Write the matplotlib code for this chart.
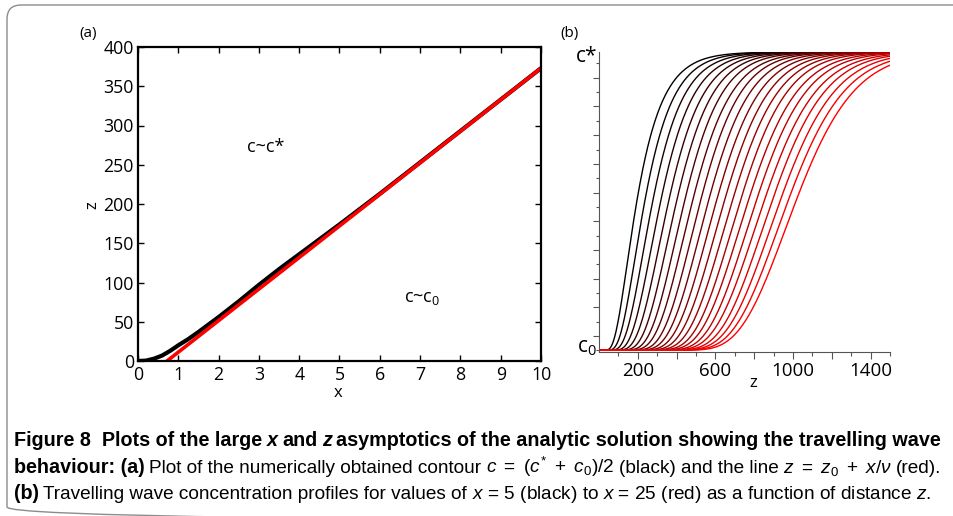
import matplotlib
matplotlib.use("Agg")
import matplotlib.pyplot as plt
from matplotlib import font_manager
from matplotlib.patches import FancyBboxPatch
from matplotlib.ticker import FixedLocator, FixedFormatter, MultipleLocator
import numpy as np
from math import erf

# --- data ---

# (a) numerically obtained contour c = (c* + c0)/2
contour_x = [0.0, 0.2, 0.4, 0.6, 0.8, 1.0, 1.25, 1.5, 2.0, 2.5, 3.0, 3.5, 4.0, 4.5,
             5.0, 6.0, 7.0, 8.0, 9.0, 10.0]
contour_z = [0, 0.5, 3, 7, 13, 20, 28, 37, 56, 76, 97, 117, 136, 155,
             174, 213, 253, 293, 333, 373]
# (a) asymptotic line z = z0 + x/nu
line_x = [0.72, 10.0]
line_z = [0, 373]

# (b) travelling wave profiles, x = 5 .. 25
profile_x = [5, 6, 7, 8, 9, 10, 11, 12, 13, 14, 15, 16, 17, 18, 19, 20, 21, 22, 23, 24, 25]
# z where each profile is half way between c0 and c*
profile_mid = [195, 236, 277, 318, 359, 400, 441, 482, 523, 564, 605,
               646, 687, 728, 769, 810, 851, 892, 933, 974, 1015]
# spread of each front (in units of sqrt(z))
profile_spread = [10.6, 10.5, 10.4, 10.3, 10.2, 10.1, 10.0, 10.0, 9.9, 9.9, 9.9,
                  9.9, 9.9, 9.9, 10.0, 10.0, 10.1, 10.1, 10.2, 10.3, 10.4]
c0_level = 0.0
cstar_level = 10.4

# --- fonts ---
names = {f.name for f in font_manager.fontManager.ttflist}
narrow = "Liberation Sans Narrow" if "Liberation Sans Narrow" in names else "Liberation Sans"
plot_font = "Open Sans"
plt.rcParams["font.family"] = [plot_font, "DejaVu Sans"]
plt.rcParams["mathtext.fontset"] = "custom"
plt.rcParams["mathtext.rm"] = narrow
plt.rcParams["mathtext.it"] = narrow + ":italic"
plt.rcParams["mathtext.bf"] = narrow + ":bold"

W, H = 954, 516
fig = plt.figure(figsize=(W / 100, H / 100), dpi=100)

# background axes in pixel coordinates
bg = fig.add_axes([0, 0, 1, 1])
bg.set_xlim(0, W)
bg.set_ylim(H, 0)
bg.axis("off")
bg.add_patch(FancyBboxPatch((7, 5), 1000, 516, boxstyle="round,pad=0,rounding_size=14",
                            fc="none", ec="#8c8c8c", lw=1.0))


def px_axes(left, top, right, bottom):
    return fig.add_axes([left / W, 1 - bottom / H, (right - left) / W, (bottom - top) / H])


# --- (a) ---
ax = px_axes(138, 47, 541, 361)
ax.plot(contour_x, contour_z, color="black", lw=3.0, solid_capstyle="butt")
ax.plot(line_x, line_z, color="#ff0000", lw=2.6)
ax.set_xlim(0, 10)
ax.set_ylim(0, 400)
ax.xaxis.set_major_locator(MultipleLocator(1))
ax.yaxis.set_major_locator(MultipleLocator(50))
ax.tick_params(direction="in", top=True, right=True, length=4, width=1, labelsize=12.8)
ax.tick_params(axis="x", pad=3.5)
ax.tick_params(axis="y", pad=3)
for sp in ax.spines.values():
    sp.set_linewidth(1.6)
ax.text(2.7, 273, "c~c*", fontsize=13, ha="left", va="center")
ax.text(6.6, 80, r"c~c$\mathregular{_0}$", fontsize=13, ha="left", va="center")
bg.text(88, 33, "(a)", fontsize=11, ha="center", va="center")
bg.text(338, 393, "x", fontsize=12, ha="center", va="center")
bg.text(92, 205, "z", fontsize=12, ha="center", va="center", rotation=90)

# --- (b) ---
bx = px_axes(599, 52, 890, 352)
z = np.linspace(10, 1500, 700)
n = len(profile_x)
for i in range(n):
    m, s = profile_mid[i], profile_spread[i]
    frac = np.array([0.5 * (1 + erf((zz - m) / (s * np.sqrt(zz)))) for zz in z])
    c = c0_level + (cstar_level - c0_level) * frac
    t = i / (n - 1)
    bx.plot(z, c, color=(t, 0, 0), lw=1.0)
bx.set_xlim(0, 1500)
bx.set_ylim(-0.06, cstar_level)
bx.spines["top"].set_visible(False)
bx.spines["right"].set_visible(False)
for sp in ("left", "bottom"):
    bx.spines[sp].set_color("#555555")
xmaj = [200, 400, 600, 800, 1000, 1200, 1400]
bx.xaxis.set_major_locator(FixedLocator(xmaj))
bx.xaxis.set_major_formatter(FixedFormatter(["200", "", "600", "", "1000", "", "1400"]))
bx.xaxis.set_minor_locator(FixedLocator([100, 300, 500, 700, 900, 1100, 1300, 1500]))
bx.yaxis.set_major_locator(FixedLocator([0.5 + k for k in range(10)]))
bx.yaxis.set_major_formatter(FixedFormatter([""] * 10))
bx.yaxis.set_minor_locator(FixedLocator([float(k) for k in range(11)]))
bx.tick_params(axis="x", which="major", direction="out", length=5, width=0.8,
               colors="#555555", labelcolor="black", labelsize=13.5, pad=2)
bx.tick_params(axis="x", which="minor", direction="out", length=3, width=0.8, colors="#555555")
bx.tick_params(axis="y", which="major", direction="out", length=4, width=0.8, colors="#555555")
bx.tick_params(axis="y", which="minor", direction="out", length=2, width=0.8, colors="#555555")
bg.text(587, 56, "c*", fontsize=15, ha="center", va="center")
bg.text(587, 348, r"c$\mathregular{_0}$", fontsize=15, ha="center", va="center")
bg.text(570, 33, "(b)", fontsize=11, ha="center", va="center")
bg.text(753, 383, "z", fontsize=12, ha="center", va="center")
bg.text(630, 155, "x=5", fontsize=12, ha="center", va="center")
bg.text(814, 219, "x=25", fontsize=12, ha="center", va="center")

# --- caption ---
styles = {
    "b": dict(fontweight="bold", fontsize=14.2),
    "bi": dict(fontweight="bold", fontstyle="italic", fontsize=14.2),
    "r": dict(fontweight="normal", fontsize=13.7),
}


def caption_line(x, y, pieces):
    # pieces: (text, style, gap before in points)
    prev = None
    for s, st, gap in pieces:
        kw = dict(family=[narrow, "DejaVu Sans"], va="baseline", ha="left", **styles[st])
        if prev is None:
            prev = bg.text(x, y, s, **kw)
        else:
            prev = bg.annotate(s, xy=(1, y), xycoords=(prev, bg.transData),
                               xytext=(gap, 0), textcoords="offset points",
                               annotation_clip=False, **kw)


sp = 3.2
caption_line(14, 446, [
    ("Figure 8  Plots of the large", "b", 0),
    ("x", "bi", sp),
    ("and", "b", sp),
    ("z", "bi", sp),
    ("asymptotics of the analytic solution showing the travelling wave", "b", sp),
])
caption_line(14, 473, [
    ("behaviour: (a)", "b", 0),
    ("Plot of the numerically obtained contour", "r", sp),
    (r"$c\ =\ (c^{*}\ +\ c_0)/2$", "r", sp),
    ("(black) and the line", "r", sp),
    (r"$z\ =\ z_0\ +\ x/\nu$", "r", sp),
    ("(red).", "r", sp),
])
caption_line(14, 499, [
    ("(b)", "b", 0),
    ("Travelling wave concentration profiles for values of", "r", sp),
    (r"$x$ = 5 (black) to $x$ = 25 (red) as a function of distance $z$.", "r", sp),
])

fig.savefig("out.png", dpi=100)
